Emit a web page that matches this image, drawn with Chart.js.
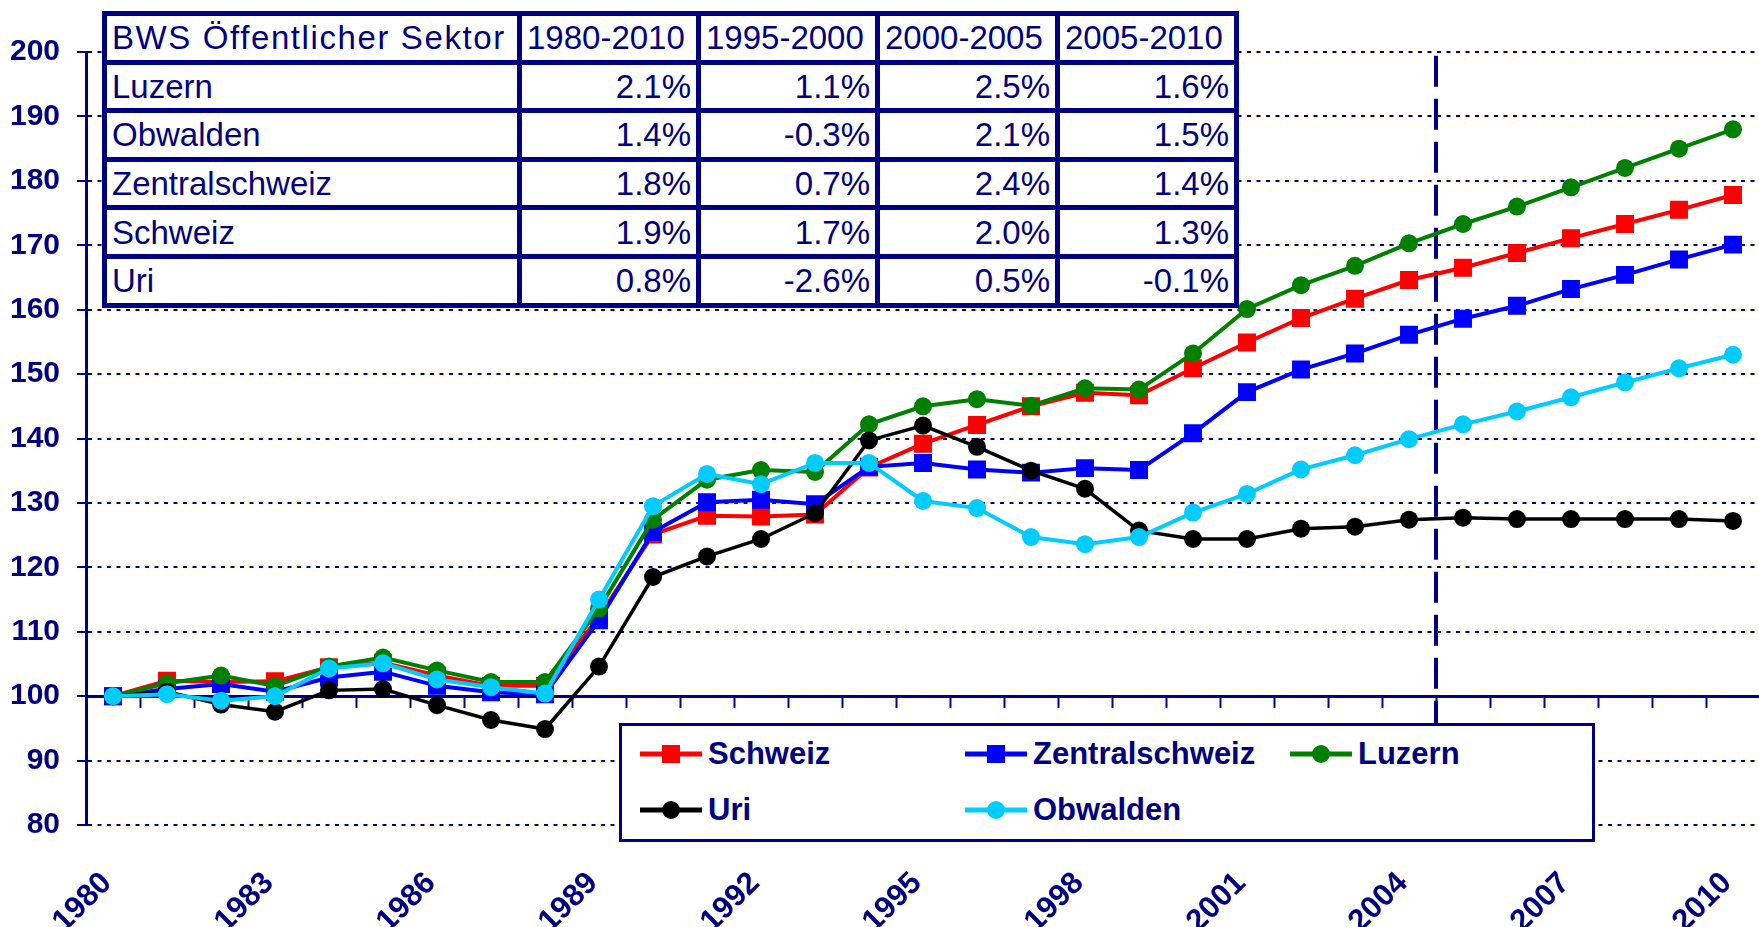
<!DOCTYPE html>
<html>
<head>
<meta charset="utf-8">
<title>BWS Öffentlicher Sektor</title>
<script src="https://cdn.jsdelivr.net/npm/chart.js@4.4.1/dist/chart.umd.min.js"></script>
<style>
  body { margin: 0; background: #fff; }
  #wrap { position: relative; width: 1759px; height: 927px; overflow: hidden;
          font-family: "Liberation Sans", Arial, sans-serif; color: #000080; }
  #chart { position: absolute; left: 0; top: 0; }
  table.bws { position: absolute; left: 102px; top: 11px; width: 1137px;
              border-collapse: collapse; table-layout: fixed; background: #fff;
              font-size: 33px; }
  table.bws td { border: 5px solid #000080; height: 43.6px; padding: 0 5px;
                 white-space: nowrap; line-height: 1; }
  table.bws td.num { text-align: right; }
  table.bws td.title { letter-spacing: 1.6px; }
  #legend { position: absolute; left: 619px; top: 723px; width: 952px; height: 113px;
            border: 3px solid #000080; background: #fff; box-sizing: content-box;
            display: grid; grid-template-columns: 325px 325px auto;
            grid-template-rows: 56px 56px; padding-left: 18px; }
  #legend .item { display: flex; align-items: center; font-weight: bold; font-size: 31px; }
  #legend .item svg { margin-right: 6px; }
</style>
</head>
<body>
<div id="wrap">
  <!-- canvas is a bit wider than the page; the plot runs to x = 1760 and the rest is clipped -->
  <canvas id="chart" width="1820" height="927"></canvas>
  <table class="bws" id="bws"></table>
  <div id="legend"></div>
</div>
<script>
// years on the x axis
var years = [];
for (var y = 1980; y <= 2010; y++) { years.push(String(y)); }

// index values (1980 = 100)
var schweiz = [100, 102.4, 102.2, 102.3, 104.5, 105.2, 103.2, 101.6, 101.6, 112.3,
  125.1, 128.0, 127.9, 128.2, 135.5, 139.2, 142.1, 145.0, 147.1, 146.7,
  150.9, 154.9, 158.7, 161.7, 164.6, 166.5, 168.8, 171.1, 173.3, 175.5, 177.8];
var zentralschweiz = [100, 101.1, 101.9, 100.7, 102.9, 103.8, 101.6, 100.6, 100.3, 111.8,
  125.5, 130.1, 130.5, 129.8, 135.6, 136.2, 135.2, 134.7, 135.4, 135.1,
  140.8, 147.2, 150.7, 153.2, 156.1, 158.6, 160.6, 163.2, 165.4, 167.8, 170.1];
var luzern = [100, 102.0, 103.2, 101.6, 104.6, 106.0, 104.0, 102.2, 102.2, 113.6,
  127.4, 133.6, 135.1, 134.8, 142.2, 145.0, 146.1, 145.1, 147.8, 147.6,
  153.2, 160.1, 163.8, 166.8, 170.3, 173.3, 176.0, 179.0, 182.0, 185.0, 188.0];
var uri = [100, 100.7, 98.7, 97.6, 100.9, 101.1, 98.6, 96.3, 94.9, 104.6,
  118.5, 121.7, 124.4, 128.4, 139.7, 142.0, 138.7, 135.0, 132.2, 125.7,
  124.4, 124.4, 126.0, 126.3, 127.4, 127.7, 127.5, 127.5, 127.5, 127.5, 127.2];
var obwalden = [100, 100.3, 99.3, 100.0, 104.3, 105.1, 102.6, 101.4, 100.4, 115.0,
  129.5, 134.5, 132.9, 136.2, 136.2, 130.3, 129.2, 124.7, 123.6, 124.7,
  128.5, 131.4, 135.2, 137.4, 139.9, 142.2, 144.2, 146.4, 148.7, 150.9, 153.0];

// growth table
var tableHead = ['BWS Öffentlicher Sektor', '1980-2010', '1995-2000', '2000-2005', '2005-2010'];
var tableRegions = ['Luzern', 'Obwalden', 'Zentralschweiz', 'Schweiz', 'Uri'];
var growthLuzern = [2.1, 1.1, 2.5, 1.6];
var growthObwalden = [1.4, -0.3, 2.1, 1.5];
var growthZentral = [1.8, 0.7, 2.4, 1.4];
var growthSchweiz = [1.9, 1.7, 2.0, 1.3];
var growthUri = [0.8, -2.6, 0.5, -0.1];

// last year before the forecast line
var forecastAfter = '2004';

var navy = '#000080';

// build the table
var growthRows = [growthLuzern, growthObwalden, growthZentral, growthSchweiz, growthUri];
var colWidths = [415, 179, 179, 180, 179];
var html = '<colgroup>';
colWidths.forEach(function (w) { html += '<col style="width:' + w + 'px">'; });
html += '</colgroup><tr>';
tableHead.forEach(function (h, i) {
    html += '<td' + (i === 0 ? ' class="title"' : '') + '>' + h + '</td>';
});
html += '</tr>';
tableRegions.forEach(function (name, i) {
    html += '<tr><td>' + name + '</td>';
    growthRows[i].forEach(function (v) {
        html += '<td class="num">' + v.toFixed(1) + '%</td>';
    });
    html += '</tr>';
});
document.getElementById('bws').innerHTML = html;

// series setup
function series(label, data, color, style, width, order) {
    return {
        label: label,
        data: data,
        borderColor: color,
        backgroundColor: color,
        borderWidth: width,
        pointStyle: style,
        pointRadius: style === 'rect' ? 12.7 : 9,
        pointBorderWidth: 0,
        pointBackgroundColor: color,
        tension: 0,
        order: order
    };
}

var datasets = [
    series('Schweiz', schweiz, '#FF0000', 'rect', 4, 5),
    series('Zentralschweiz', zentralschweiz, '#0000FF', 'rect', 4, 4),
    series('Luzern', luzern, '#008000', 'circle', 4, 3),
    series('Uri', uri, '#000000', 'circle', 3.5, 2),
    series('Obwalden', obwalden, '#00CCFF', 'circle', 4, 1)
];

// dashed vertical line between 2004 and 2005
var forecastLine = {
    id: 'forecastLine',
    beforeDatasetsDraw: function (chart) {
        var xs = chart.scales.x, ys = chart.scales.y;
        var i = years.indexOf(forecastAfter);
        var px = (xs.getPixelForValue(i) + xs.getPixelForValue(i + 1)) / 2;
        var c = chart.ctx;
        c.save();
        c.strokeStyle = navy;
        c.lineWidth = 4;
        c.setLineDash([31, 12]);
        c.beginPath();
        c.moveTo(px, ys.getPixelForValue(199.4));
        c.lineTo(px, ys.getPixelForValue(80));
        c.stroke();
        c.restore();
    }
};

var fontFamily = '"Liberation Sans", Arial, sans-serif';

var ctx = document.getElementById('chart').getContext('2d');
var chart = new Chart(ctx, {
    type: 'line',
    data: { labels: years, datasets: datasets },
    plugins: [forecastLine],
    options: {
        responsive: false,
        animation: false,
        layout: { padding: { top: 52, right: 60, bottom: 0, left: 0 } },
        plugins: { legend: { display: false }, tooltip: { enabled: false } },
        scales: {
            x: {
                type: 'category',
                position: { y: 100 },
                offset: true,
                grid: { offset: true, drawOnChartArea: false, tickLength: 10, tickWidth: 2, tickColor: navy },
                border: { color: navy, width: 3 },
                ticks: { display: false }
            },
            x2: {
                type: 'category',
                axis: 'x',
                position: 'bottom',
                offset: true,
                grid: { display: false, drawTicks: false },
                border: { display: false },
                ticks: {
                    autoSkip: false,
                    minRotation: 45,
                    maxRotation: 45,
                    padding: 40,
                    labelOffset: -6,
                    color: navy,
                    font: { family: fontFamily, size: 31, weight: 'bold' },
                    callback: function (v, i) { return i % 3 === 0 ? this.getLabelForValue(v) : ''; }
                },
                afterFit: function (s) {
                    s.height = 102;
                    s.paddingLeft = 0;
                    s.paddingRight = 0;
                }
            },
            y: {
                min: 80,
                max: 200,
                ticks: { stepSize: 10, color: navy, font: { family: fontFamily, size: 30, weight: 'bold' }, padding: 17 },
                grid: { color: navy, lineWidth: 2, tickLength: 9, tickColor: navy, tickWidth: 2 },
                border: { color: navy, width: 3, dash: [4, 5.5] },
                afterFit: function (s) { s.width = 86; }
            }
        }
    }
});

// legend from the datasets
var legend = document.getElementById('legend');
datasets.forEach(function (d) {
    var shape = d.pointStyle === 'rect'
        ? '<rect x="22" y="3" width="18" height="18" fill="' + d.borderColor + '"/>'
        : '<circle cx="31" cy="12" r="9" fill="' + d.borderColor + '"/>';
    var item = document.createElement('div');
    item.className = 'item';
    item.innerHTML = '<svg width="62" height="24"><line x1="0" y1="12" x2="62" y2="12" stroke="' +
        d.borderColor + '" stroke-width="5"/>' + shape + '</svg><span>' + d.label + '</span>';
    legend.appendChild(item);
});
</script>
</body>
</html>
